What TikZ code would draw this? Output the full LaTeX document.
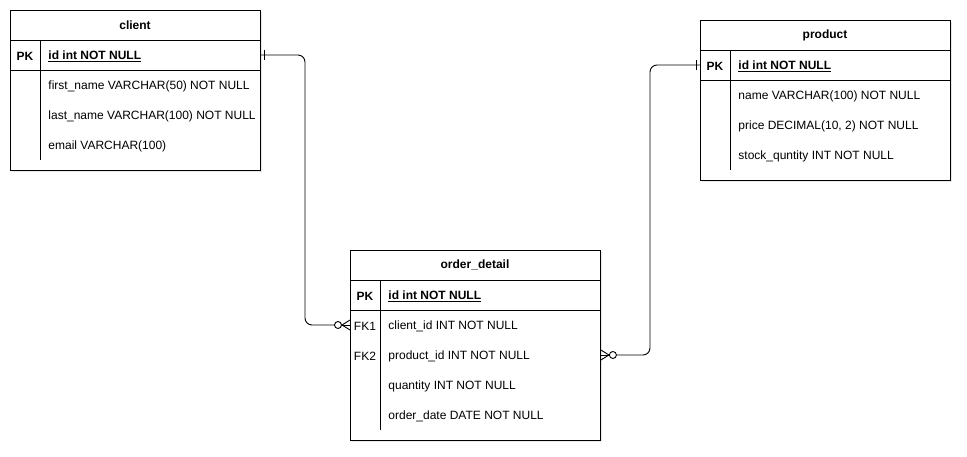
\documentclass[tikz,border=0pt]{standalone}
\usepackage{fontspec}
\setmainfont{Liberation Sans}
\usetikzlibrary{shadows}

\tikzset{
  table/.style={draw, fill=white, inner sep=0pt, anchor=north west,
    minimum width=250pt, drop shadow={shadow xshift=2pt, shadow yshift=-2pt, opacity=0.18}},
  head/.style={font=\fontsize{12}{14}\selectfont\bfseries},
  key/.style={font=\fontsize{12}{14}\selectfont\bfseries},
  fk/.style={},
  field/.style={anchor=west, inner sep=0pt},
  rel/.style={rounded corners=7pt}
}

\begin{document}
\begin{tikzpicture}[x=1pt, y=-1pt, line width=0.9pt, font=\fontsize{12}{14}\selectfont]
  \useasboundingbox (0,0) rectangle (967,457);

  % client
  \node[table, minimum height=160pt] (client) at (10,10) {};
  \node[head] (client-h) at (135,25) {client};
  \draw (10,40) -- (260,40);
  \draw (10,70) -- (260,70);
  \draw (40,40) -- (40,160);
  \node[key] (client-pk) at (25,56) {PK};
  \node[field, key] (client-id) at (48,56) {\underline{id int NOT NULL}};
  \node[field] (client-fn) at (48,86) {first\_name VARCHAR(50) NOT NULL};
  \node[field] (client-ln) at (48,116) {last\_name VARCHAR(100) NOT NULL};
  \node[field] (client-em) at (48,146) {email VARCHAR(100)};

  % product
  \node[table, minimum height=160pt] (product) at (700,20) {};
  \node[head] (product-h) at (825,35) {product};
  \draw (700,50) -- (950,50);
  \draw (700,80) -- (950,80);
  \draw (730,50) -- (730,170);
  \node[key] (product-pk) at (715,66) {PK};
  \node[field, key] (product-id) at (738,66) {\underline{id int NOT NULL}};
  \node[field] (product-nm) at (738,96) {name VARCHAR(100) NOT NULL};
  \node[field] (product-pr) at (738,126) {price DECIMAL(10, 2) NOT NULL};
  \node[field] (product-st) at (738,156) {stock\_quntity INT NOT NULL};

  % order_detail
  \node[table, minimum height=190pt] (order) at (350,250) {};
  \node[head] (order-h) at (475,265) {order\_detail};
  \draw (350,280) -- (600,280);
  \draw (350,310) -- (600,310);
  \draw (380,280) -- (380,430);
  \node[key] (order-pk) at (365,296) {PK};
  \node[fk] (order-fk1) at (365,326) {FK1};
  \node[fk] (order-fk2) at (365,356) {FK2};
  \node[field, key] (order-id) at (388,296) {\underline{id int NOT NULL}};
  \node[field] (order-cl) at (388,326) {client\_id INT NOT NULL};
  \node[field] (order-pd) at (388,356) {product\_id INT NOT NULL};
  \node[field] (order-qt) at (388,386) {quantity INT NOT NULL};
  \node[field] (order-dt) at (388,416) {order\_date DATE NOT NULL};

  % relations
  \coordinate (bend1) at (305,0);
  \coordinate (bend2) at (650,0);
  \coordinate (c1) at (client.east |- 0,55);
  \coordinate (o1) at (order.west |- 0,325);
  \coordinate (o2) at (order.east |- 0,355);
  \coordinate (p1) at (product.west |- 0,65);

  \draw[rel] (c1) -| (bend1 |- o1) -- ([xshift=-15.5pt]o1);
  \draw[rel] (p1) -| (bend2 |- o2) -- ([xshift=15.5pt]o2);

  % one
  \draw ([xshift=4pt]c1) ++(0,-5) -- ++(0,10);
  \draw ([xshift=-4pt]p1) ++(0,-5) -- ++(0,10);
  % zero or many
  \draw ([xshift=-12pt]o1) circle (3.5pt);
  \draw ([xshift=-8.5pt]o1) -- (o1);
  \draw ([xshift=-8pt]o1) -- ([yshift=-5pt]o1) ([xshift=-8pt]o1) -- ([yshift=5pt]o1);
  \draw ([xshift=12pt]o2) circle (3.5pt);
  \draw ([xshift=8.5pt]o2) -- (o2);
  \draw ([xshift=8pt]o2) -- ([yshift=-5pt]o2) ([xshift=8pt]o2) -- ([yshift=5pt]o2);
\end{tikzpicture}
\end{document}
